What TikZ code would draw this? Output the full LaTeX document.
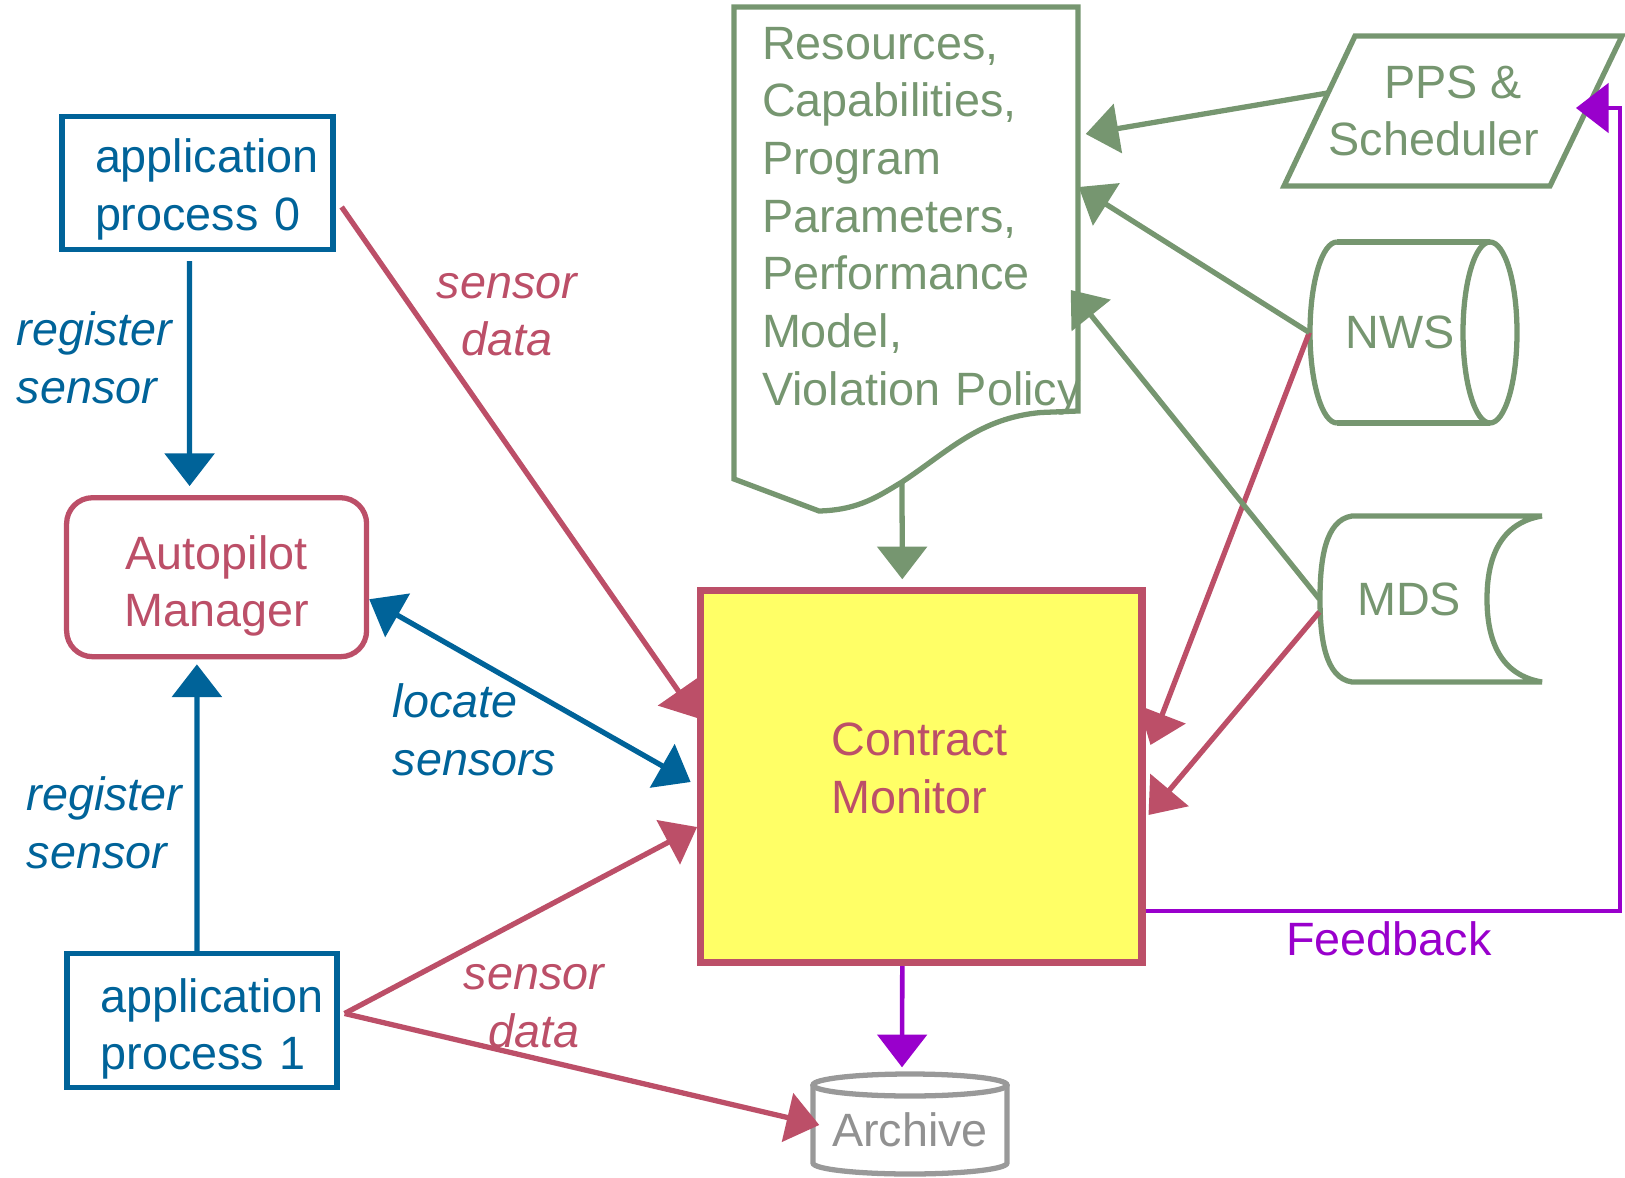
\documentclass[tikz,border=0pt]{standalone}
\usepackage{fontspec}
\setmainfont{Liberation Sans}
\usetikzlibrary{arrows.meta, positioning, calc}
\definecolor{ProcBlue}{HTML}{006399}
\definecolor{MonitorRose}{HTML}{BC4F68}
\definecolor{InfoGreen}{HTML}{769670}
\definecolor{FeedPurple}{HTML}{9900CC}
\definecolor{ArchiveGray}{HTML}{999999}
\definecolor{MonitorYellow}{HTML}{FFFF66}

\begin{document}
\begin{tikzpicture}[
    font=\fontsize{13.3pt}{16.4pt}\selectfont,
    linkarrow/.style={line width=1.5pt, -{Triangle[length=9.3pt, width=14pt]}},
    biarrow/.style={line width=1.5pt, {Triangle[length=9.3pt, width=14pt]}-{Triangle[length=9.3pt, width=14pt]}},
    procbox/.style={draw=ProcBlue, line width=1.5pt, text=ProcBlue, minimum width=2.71cm, minimum height=1.33cm, align=left, inner sep=0pt},
    storeline/.style={draw=InfoGreen, line width=1.5pt},
    archline/.style={draw=ArchiveGray, line width=1.5pt},
    edgetext/.style={font=\fontsize{13.3pt}{16.4pt}\selectfont\itshape, inner sep=0pt},
  ]
  \useasboundingbox (0,0) rectangle (16.25,-11.78);

  % Application processes and the Autopilot Manager
  \node[procbox, text width=2.05cm, text height=0.465cm] (ap0) at (1.975,-1.83) {\mbox{application}\\\mbox{process 0}};
  \node[procbox, text width=2.03cm, text height=0.51cm, minimum width=2.70cm, minimum height=1.34cm] (ap1) at (2.02,-10.205) {\mbox{application}\\\mbox{process 1}};
  \node[draw=MonitorRose, line width=1.5pt, text=MonitorRose, rounded corners=0.26cm, minimum width=3.0cm, minimum height=1.59cm, text width=2.0cm, text height=0.51cm, align=center, inner sep=0pt] (am) at (2.166,-5.772) {\mbox{Autopilot}\\\mbox{Manager}};

  % Contract Monitor
  \node[draw=MonitorRose, line width=2.1pt, fill=MonitorYellow, text=MonitorRose, minimum width=4.41cm, minimum height=3.72cm, text width=1.80cm, text depth=0.74cm, align=left, inner sep=0pt] (cm) at (9.213,-7.765) {\mbox{Contract}\\\mbox{Monitor}};

  % Document with the monitor inputs
  \draw[storeline] (7.34,-0.07) -- (10.78,-0.07) -- (10.78,-4.11) -- (10.41,-4.125) .. controls (9.8,-4.18) and (9.5,-4.5) .. (9.02,-4.82) .. controls (8.8,-4.95) and (8.6,-5.1) .. (8.19,-5.11) -- (7.34,-4.79) -- cycle;
  \node[text=InfoGreen, minimum width=3.44cm, minimum height=4.04cm, text width=2.88cm, align=left, inner sep=0pt] (doc) at (9.06,-2.21) {\mbox{Resources,}\\\mbox{Capabilities,}\\\mbox{Program}\\\mbox{Parameters,}\\\mbox{Performance}\\\mbox{Model,}\\\mbox{Violation Policy}};

  % PPS & Scheduler
  \draw[storeline] (13.55,-0.36) -- (16.22,-0.36) -- (15.50,-1.86) -- (12.84,-1.86) -- cycle;
  \node[text=InfoGreen, minimum width=2.665cm, minimum height=1.5cm, align=center, inner sep=0pt] (pps) at (14.53,-1.11) {PPS \&\\\hspace*{-0.38cm}Scheduler};

  % NWS store
  \draw[storeline] (13.37,-2.42) -- (14.90,-2.42) (13.37,-4.23) -- (14.90,-4.23);
  \draw[storeline] (13.37,-2.42) arc[start angle=90, end angle=270, x radius=0.27cm, y radius=0.905cm];
  \draw[storeline] (14.90,-3.325) ellipse [x radius=0.27cm, y radius=0.905cm];
  \node[text=InfoGreen, minimum width=1.80cm, minimum height=1.81cm, inner sep=0pt] (nws) at (14.00,-3.325) {NWS};

  % MDS store
  \draw[storeline] (15.42,-5.16) -- (13.52,-5.16) .. controls (13.25,-5.20) and (13.20,-5.60) .. (13.20,-5.99) .. controls (13.20,-6.38) and (13.25,-6.78) .. (13.52,-6.82) -- (15.42,-6.82) .. controls (15.0,-6.75) and (14.87,-6.40) .. (14.87,-5.99) .. controls (14.87,-5.58) and (15.0,-5.23) .. (15.42,-5.16);
  \node[text=InfoGreen, minimum width=1.78cm, minimum height=1.66cm, inner sep=0pt] (mds) at (14.09,-5.99) {MDS};

  % Archive
  \draw[archline] (9.10,-10.85) ellipse [x radius=0.97cm, y radius=0.11cm];
  \draw[archline] (8.13,-10.85) -- (8.13,-11.63) arc[start angle=180, end angle=360, x radius=0.97cm, y radius=0.11cm] -- (10.07,-10.85);
  \node[text=ArchiveGray!95!black, minimum width=1.94cm, minimum height=0.89cm, inner sep=0pt] (arch) at (9.10,-11.295) {Archive};

  % Sensor registration and lookup
  \draw[linkarrow, ProcBlue] ([xshift=-0.08cm,yshift=-0.09cm]ap0.south) -- ([xshift=-0.27cm,yshift=0.09cm]am.north);
  \draw[linkarrow, ProcBlue] ([xshift=-0.05cm]ap1.north) -- ([xshift=-0.197cm,yshift=-0.05cm]am.south);
  \draw[biarrow, ProcBlue] ([yshift=-0.22cm]am.east) -- ([xshift=-0.065cm,yshift=-0.055cm]cm.west);
  \node[edgetext, text=ProcBlue, align=left, anchor=west] (reg0) at (0.16,-3.58) {register\\sensor};
  \node[edgetext, text=ProcBlue, align=left, anchor=west] (reg1) at (0.26,-8.225) {register\\sensor};
  \node[edgetext, text=ProcBlue, align=left, anchor=west] (loc) at (3.92,-7.30) {locate\\sensors};

  % Sensor data
  \draw[linkarrow, MonitorRose] ([xshift=0.06cm,yshift=-0.24cm]ap0.east) -- ([yshift=0.585cm]cm.west);
  \draw[linkarrow, MonitorRose] ([xshift=0.05cm,yshift=0.07cm]ap1.east) -- ([yshift=-0.505cm]cm.west);
  \draw[linkarrow, MonitorRose] ([xshift=0.05cm,yshift=0.07cm]ap1.east) -- ([xshift=0.07cm,yshift=0.045cm]arch.west);
  \draw[linkarrow, MonitorRose] (nws.west) -- ([xshift=0.05cm,yshift=0.315cm]cm.east);
  \draw[linkarrow, MonitorRose] ([yshift=-0.13cm]mds.west) -- ([xshift=0.03cm,yshift=-0.385cm]cm.east);
  \node[edgetext, text=MonitorRose, align=center] (sd0) at (5.07,-3.145) {sensor\\data};
  \node[edgetext, text=MonitorRose, align=center] (sd1) at (5.34,-10.06) {sensor\\data};

  % Inputs to the document and the monitor
  \draw[linkarrow, InfoGreen] ([xshift=-0.04cm,yshift=-0.59cm]doc.south) -- ([xshift=-0.19cm,yshift=0.075cm]cm.north);
  \draw[linkarrow, InfoGreen] ([xshift=0.085cm,yshift=0.18cm]pps.west) -- ([xshift=0.07cm,yshift=0.87cm]doc.east);
  \draw[linkarrow, InfoGreen] (nws.west) -- ([yshift=0.34cm]doc.east);
  \draw[linkarrow, InfoGreen] (mds.west) -- ([xshift=-0.08cm,yshift=-0.69cm]doc.east);

  % Archive and feedback
  \draw[linkarrow, FeedPurple, line width=1.3pt] ([xshift=-0.19cm]cm.south) -- ([xshift=-0.08cm,yshift=0.17cm]arch.north);
  \draw[linkarrow, FeedPurple, line width=1.3pt] ([yshift=-1.345cm]cm.east) -| ([xshift=0.33cm,yshift=0.03cm]pps.east) -- ([xshift=-0.11cm,yshift=0.03cm]pps.east);
  \node[text=FeedPurple] (fb) at (13.89,-9.39) {Feedback};
\end{tikzpicture}
\end{document}
